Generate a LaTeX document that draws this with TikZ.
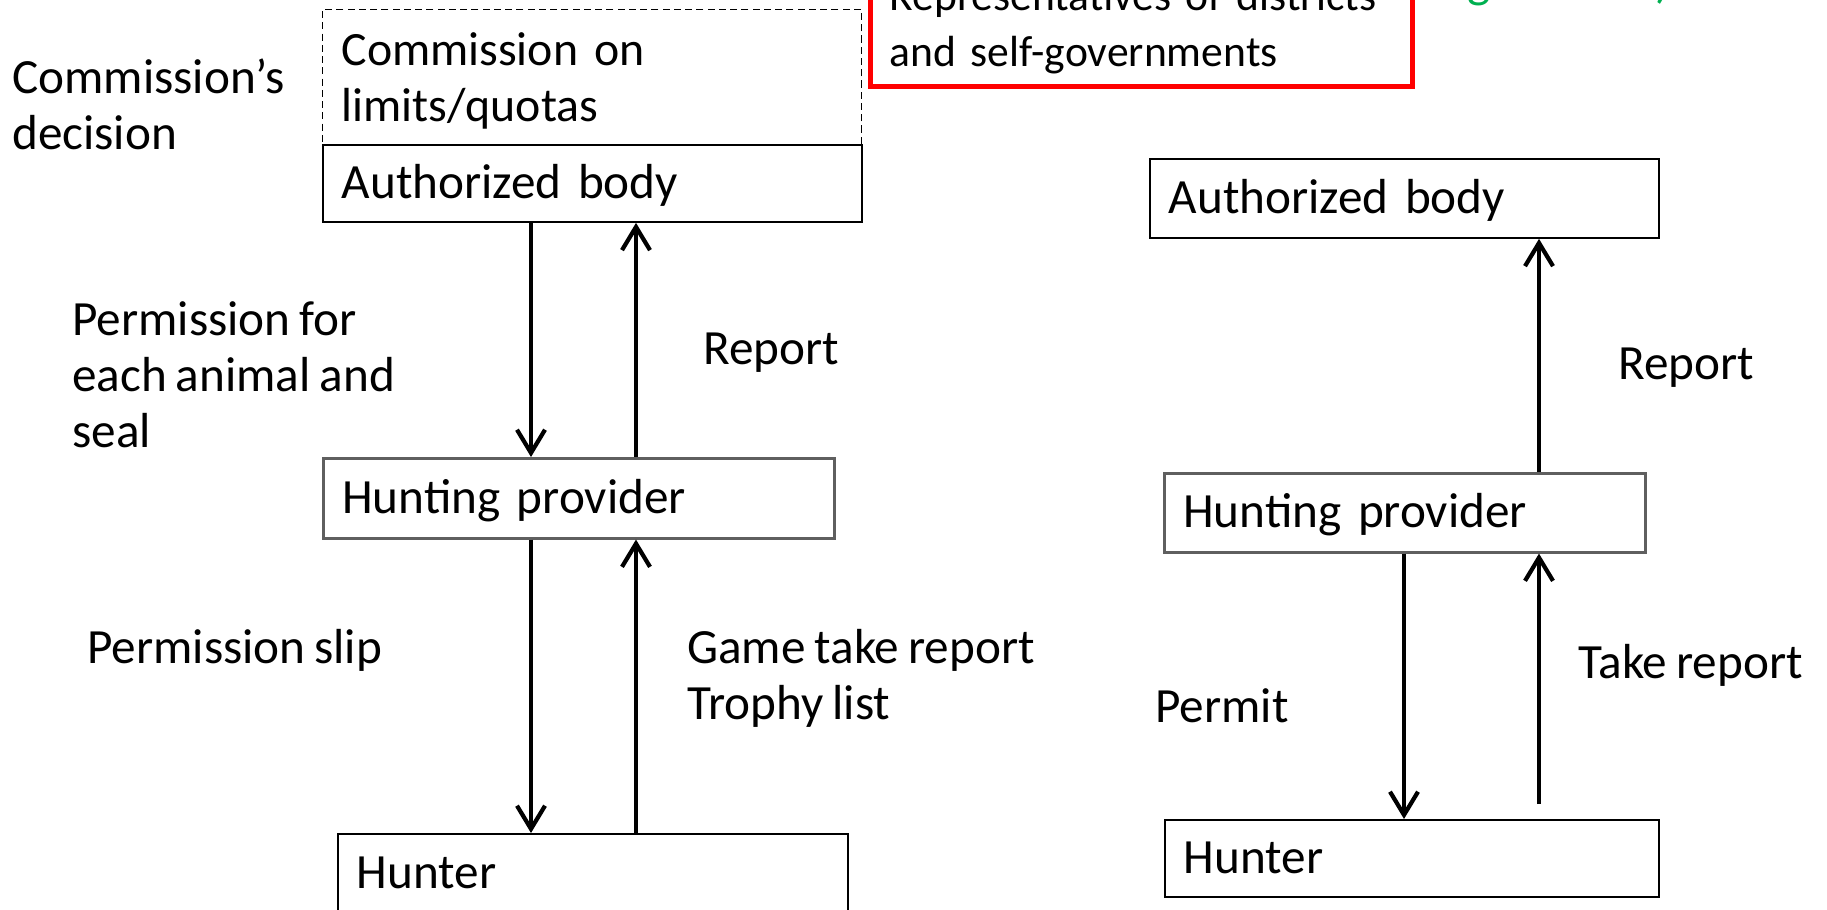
\documentclass[tikz,border=0pt]{standalone}
\usepackage{fontspec}
\setmainfont[WordSpace=0.8]{Carlito}
\usetikzlibrary{arrows.meta,positioning,calc}
\definecolor{frame}{HTML}{FF0000}
\definecolor{titlegreen}{HTML}{00B050}
\definecolor{provgrey}{HTML}{5F5F5F}
\tikzset{
  box/.style={draw,line width=1.3pt,anchor=north west,inner xsep=0.475cm,inner ysep=0pt,align=left},
  oneline/.style={text height=30pt,text depth=9pt},
  lbl/.style={anchor=base west,inner sep=0pt,align=left},
  flow/.style={line width=3pt,-{Straight Barb[length=0.58cm,width=0.7cm]}},
}
\begin{document}
\begin{tikzpicture}[x=0.025cm,y=-0.025cm,font=\fontsize{35}{39.8}\selectfont]
    \useasboundingbox (0,0) rectangle (1827,909);
    \clip (0,0) rectangle (1827,909);
    \node[box,dashed,line width=0.8pt,dash pattern=on 5pt off 3pt,minimum width=13.475cm,minimum height=3.375cm,text width=12.525cm,text height=29.5pt,font=\fontsize{34}{39.8}\selectfont](comm) at (322,9){Commission on\\limits/quotas};
    \node[box,oneline,minimum width=13.475cm,minimum height=1.925cm,text width=12.525cm](abL) at (322,144){Authorized body};
    \node[box,oneline,draw=provgrey,line width=1.8pt,minimum width=12.775cm,minimum height=2cm,text width=11.825cm](hpL) at (322,457){Hunting provider};
    \node[box,oneline,minimum width=12.75cm,minimum height=2cm,text width=11.8cm](huL) at (337,833){Hunter};
    \node[box,draw=frame,line width=3.5pt,minimum width=13.55cm,minimum height=2.95cm,text width=12.6cm,font=\fontsize{31}{39.8}\selectfont](reps) at (868,-34){\mbox{Representatives of districts}\\and self-governments};
    \node[box,oneline,minimum width=12.725cm,minimum height=1.975cm,text width=11.775cm](abR) at (1149,158){Authorized body};
    \node[box,oneline,draw=provgrey,line width=1.8pt,minimum width=12.025cm,minimum height=1.975cm,text width=11.075cm](hpR) at (1163,472){Hunting provider};
    \node[box,oneline,minimum width=12.35cm,minimum height=1.925cm,text width=11.4cm](huR) at (1164,819){Hunter};
    \node[lbl](dec) at (12,149){Commission’s\\decision};
    \node[lbl](perm) at (72,447){Permission for\\each animal and\\seal};
    \node[lbl](repL) at (703,364){Report};
    \node[lbl](slip) at (87,663){Permission slip};
    \node[lbl](game) at (687,719){Game take report\\Trophy list};
    \node[lbl](repR) at (1618,379){Report};
    \node[lbl](take) at (1578,678){Take report};
    \node[lbl](permit) at (1155,722){Permit};
    \node[lbl,text=titlegreen](ttlg) at (1467,-3){g};
    \node[lbl,text=titlegreen](ttlp) at (1655,-3){)};
    \coordinate (dn) at (531,0);
    \coordinate (up) at (636,0);
    \coordinate (dnR) at (1404,0);
    \coordinate (upR) at (1539,0);
    \coordinate (takeFoot) at (1539,804);
    \draw[flow] (abL.south -| dn) -- (hpL.north -| dn);
    \draw[flow] (hpL.north -| up) -- (abL.south -| up);
    \draw[flow] (hpL.south -| dn) -- (huL.north -| dn);
    \draw[flow] (huL.north -| up) -- (hpL.south -| up);
    \draw[flow] (hpR.north -| upR) -- (abR.south -| upR);
    \draw[flow] (hpR.south -| dnR) -- (huR.north -| dnR);
    \draw[flow] (takeFoot) -- (hpR.south -| upR);
\end{tikzpicture}
\end{document}
